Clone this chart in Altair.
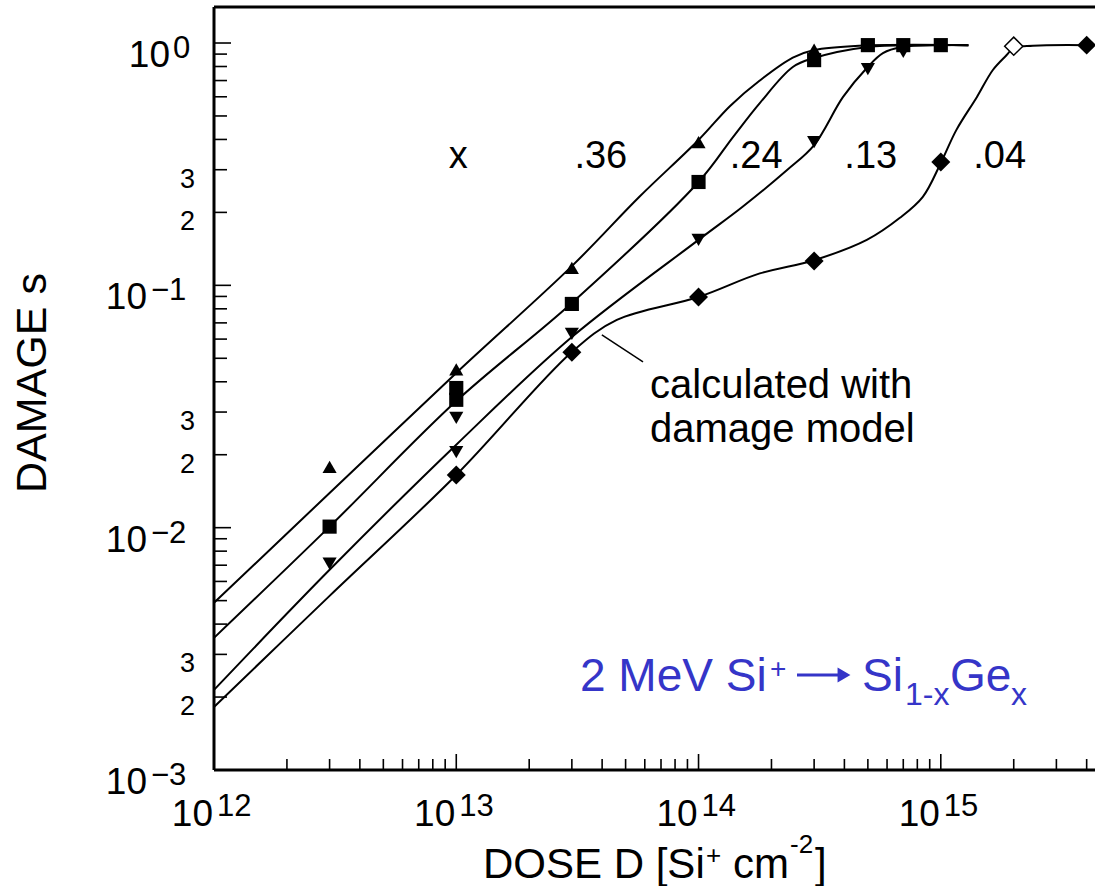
import altair as alt
import pandas as pd

# ---------------- data ----------------
# measured damage points, dose in Si+ cm^-2
x36_dose = [3e12, 1e13, 3e13, 1e14, 3e14]
x36_dmg = [0.0178, 0.045, 0.118, 0.39, 0.94]

x24_dose = [3e12, 1e13, 1e13, 3e13, 1e14, 3e14, 5e14, 7e14, 1e15]
x24_dmg = [0.0101, 0.0377, 0.0337, 0.0838, 0.267, 0.85, 0.98, 0.98, 0.98]

x13_dose = [3e12, 1e13, 1e13, 3e13, 1e14, 3e14, 5e14, 7e14]
x13_dmg = [0.0071, 0.0284, 0.0205, 0.063, 0.154, 0.39, 0.78, 0.92]

x04_dose = [1e13, 3e13, 1e14, 3e14, 1e15, 4e15]
x04_dmg = [0.0165, 0.053, 0.0895, 0.126, 0.323, 0.98]
x04_open_dose = [2e15]
x04_open_dmg = [0.97]

# curves calculated with the damage model
fit36_dose = [1e12, 3e12, 1e13, 3e13, 5.7e13, 1e14, 1.35e14, 1.79e14, 2.45e14, 3e14, 4.6e14, 1.3e15]
fit36_dmg = [0.0049, 0.0139, 0.0435, 0.120, 0.232, 0.398, 0.55, 0.70, 0.87, 0.935, 0.975, 0.98]

fit24_dose = [1e12, 3e12, 1e13, 3e13, 1e14, 1.39e14, 1.79e14, 2.45e14, 3e14, 5e14, 8.2e14, 1.3e15]
fit24_dmg = [0.00351, 0.0101, 0.0333, 0.0846, 0.267, 0.41, 0.565, 0.796, 0.867, 0.963, 0.98, 0.98]

fit13_dose = [1e12, 3e12, 1e13, 3e13, 1e14, 1.52e14, 2.32e14, 3e14, 3.95e14, 4.95e14, 5.77e14, 6.92e14, 1e15, 1.3e15]
fit13_dmg = [0.00214, 0.0067, 0.022, 0.0612, 0.154, 0.211, 0.299, 0.379, 0.599, 0.789, 0.909, 0.963, 0.98, 0.98]

fit04_dose = [1e12, 3e12, 1e13, 3e13, 4.6e13, 1e14, 1.79e14, 3e14, 4.95e14, 6.78e14, 8.43e14, 1e15,
              1.16e15, 1.41e15, 1.64e15, 1.87e15, 2e15, 2.4e15, 4e15]
fit04_dmg = [0.00182, 0.00523, 0.0165, 0.0531, 0.072, 0.0895, 0.112, 0.127, 0.154, 0.19, 0.232, 0.32,
             0.438, 0.599, 0.774, 0.892, 0.955, 0.975, 0.98]

# composition labels
comp_text = ["x", ".36", ".24", ".13", ".04"]
comp_dose = [1.02e13, 3.95e13, 1.73e14, 5.14e14, 1.75e15]
comp_dmg = [0.305, 0.305, 0.305, 0.305, 0.305]

# leader line to the "calculated with damage model" note
lead_dose = [3.99e13]
lead_dose2 = [5.9e13]
lead_dmg = [0.0624]
lead_dmg2 = [0.0483]

# axis ticks and labels
y_major = [1e-3, 1e-2, 1e-1, 1.0]
y_minor = [m * d for d in (1e-3, 1e-2, 1e-1) for m in range(2, 10)]
x_major = [1e12, 1e13, 1e14, 1e15]
x_minor = [m * d for d in (1e12, 1e13, 1e14) for m in range(2, 10)] + [2e15, 3e15, 4e15]
y_dec_pos_vals = [1.0]
y_dec_pos_exp = ["0"]
y_dec_neg_vals = [1e-1, 1e-2, 1e-3]
y_dec_neg_exp = ["\u22121", "\u22122", "\u22123"]
y_small_vals = [2e-3, 3e-3, 2e-2, 3e-2, 2e-1, 3e-1]
y_small_text = ["2", "3", "2", "3", "2", "3"]
x_dec_vals = [1e12, 1e13, 1e14, 1e15]
x_dec_exp = ["12", "13", "14", "15"]

# ---------------- layout ----------------
W, H = 881, 763
SANS = "Liberation Sans, Arial, Helvetica, sans-serif"
BLUE = "#3535c8"

xs = alt.Scale(type="log", domain=[1e12, 4.33e15], nice=False)
ys = alt.Scale(type="log", domain=[1e-3, 1.408], nice=False)


def X(f):
    return alt.X(f, type="quantitative", scale=xs, axis=None)


def Y(f):
    return alt.Y(f, type="quantitative", scale=ys, axis=None)


one = pd.DataFrame({"k": [0]})


def ptext(txt, x, y, size, color="black", align="left", baseline="alphabetic", angle=0):
    return alt.Chart(one).mark_text(
        text=txt, fontSize=size, font=SANS, color=color, align=align,
        baseline=baseline, angle=angle
    ).encode(x=alt.value(x), y=alt.value(y))


layers = []

# frame (left, top, bottom)
layers.append(alt.Chart(one).mark_rule(color="black", strokeWidth=3).encode(
    x=alt.value(0), y=alt.value(0), y2=alt.value(H)))
layers.append(alt.Chart(one).mark_rule(color="black", strokeWidth=3).encode(
    x=alt.value(0), x2=alt.value(W), y=alt.value(0)))
layers.append(alt.Chart(one).mark_rule(color="black", strokeWidth=3).encode(
    x=alt.value(0), x2=alt.value(W), y=alt.value(H)))


# inward ticks
def yticks(vals, length):
    return alt.Chart(pd.DataFrame({"v": vals})).mark_rule(color="black", strokeWidth=1.6).encode(
        y=Y("v"), x=alt.value(0), x2=alt.value(length))


def xticks(vals, length):
    return alt.Chart(pd.DataFrame({"v": vals})).mark_rule(color="black", strokeWidth=1.6).encode(
        x=X("v"), y=alt.value(H), y2=alt.value(H - length))


layers += [yticks(y_major, 17), yticks(y_minor, 13), xticks(x_major, 16), xticks(x_minor, 11)]

# y decade labels 10^n
layers.append(alt.Chart(pd.DataFrame({"v": y_dec_pos_vals})).mark_text(
    text="10", fontSize=37, font=SANS, align="right", dy=13).encode(y=Y("v"), x=alt.value(-44)))
layers.append(alt.Chart(pd.DataFrame({"v": y_dec_pos_vals, "e": y_dec_pos_exp})).mark_text(
    fontSize=31, font=SANS, align="left", dy=6).encode(y=Y("v"), x=alt.value(-41), text="e:N"))
layers.append(alt.Chart(pd.DataFrame({"v": y_dec_neg_vals})).mark_text(
    text="10", fontSize=37, font=SANS, align="right", dy=13).encode(y=Y("v"), x=alt.value(-67)))
layers.append(alt.Chart(pd.DataFrame({"v": y_dec_neg_vals, "e": y_dec_neg_exp})).mark_text(
    fontSize=31, font=SANS, align="left", dy=6).encode(y=Y("v"), x=alt.value(-63), text="e:N"))
# y intermediate labels 2, 3
layers.append(alt.Chart(pd.DataFrame({"v": y_small_vals, "t": y_small_text})).mark_text(
    fontSize=27, font=SANS, align="right", dy=10).encode(y=Y("v"), x=alt.value(-19), text="t:N"))
# x decade labels
layers.append(alt.Chart(pd.DataFrame({"v": x_dec_vals})).mark_text(
    text="10", fontSize=37, font=SANS, align="right", dx=-1).encode(x=X("v"), y=alt.value(H + 45)))
layers.append(alt.Chart(pd.DataFrame({"v": x_dec_vals, "e": x_dec_exp})).mark_text(
    fontSize=31, font=SANS, align="left", dx=3).encode(x=X("v"), y=alt.value(H + 37), text="e:N"))

# model curves
fits = []
for name, d, s in [(".36", fit36_dose, fit36_dmg), (".24", fit24_dose, fit24_dmg),
                   (".13", fit13_dose, fit13_dmg), (".04", fit04_dose, fit04_dmg)]:
    fits.append(pd.DataFrame({"d": d, "s": s, "c": name}))
fit_df = pd.concat(fits, ignore_index=True)
layers.append(alt.Chart(fit_df).mark_line(interpolate="catmull-rom", color="black", strokeWidth=2).encode(
    x=X("d"), y=Y("s"), detail="c:N"))


# measured points
def pts(dose, dmg, shape, size, fill="black", sw=0.0):
    df = pd.DataFrame({"d": dose, "s": dmg})
    return alt.Chart(df).mark_point(shape=shape, size=size, filled=True, fill=fill, stroke="black",
                                    strokeWidth=sw, opacity=1).encode(x=X("d"), y=Y("s"))


layers += [
    pts(x36_dose, x36_dmg, "triangle-up", 200),
    pts(x24_dose, x24_dmg, "square", 200),
    pts(x13_dose, x13_dmg, "triangle-down", 200),
    pts(x04_dose, x04_dmg, "diamond", 360),
    pts(x04_open_dose, x04_open_dmg, "diamond", 330, fill="white", sw=1.5),
]

# composition labels
layers.append(alt.Chart(pd.DataFrame({"d": comp_dose, "s": comp_dmg, "t": comp_text})).mark_text(
    fontSize=38, font=SANS, align="center", baseline="alphabetic").encode(x=X("d"), y=Y("s"), text="t:N"))

# leader line and note
layers.append(alt.Chart(pd.DataFrame({"d": lead_dose, "d2": lead_dose2, "s": lead_dmg, "s2": lead_dmg2}))
              .mark_rule(color="black", strokeWidth=1.5)
              .encode(x=X("d"), x2="d2", y=Y("s"), y2="s2"))
layers.append(ptext("calculated with", 436, 391, 40))
layers.append(ptext("damage model", 436, 435, 40))

# blue annotation: 2 MeV Si+ -> Si(1-x)Ge(x)
layers.append(ptext("2 MeV Si", 366, 684, 46, color=BLUE))
layers.append(ptext("+", 556, 671, 28, color=BLUE))
layers.append(alt.Chart(one).mark_rule(color=BLUE, strokeWidth=3).encode(
    x=alt.value(583), x2=alt.value(626), y=alt.value(668)))
layers.append(alt.Chart(one).mark_point(shape="triangle-right", size=220, filled=True, color=BLUE,
                                        opacity=1).encode(x=alt.value(630), y=alt.value(668)))
layers.append(ptext("Si", 648, 684, 46, color=BLUE))
layers.append(ptext("1-x", 691, 698, 32, color=BLUE))
layers.append(ptext("Ge", 736, 684, 46, color=BLUE))
layers.append(ptext("x", 797, 698, 32, color=BLUE))

# axis titles
layers.append(ptext("DAMAGE s", -181, 376, 43, align="center", baseline="middle", angle=270))
layers.append(ptext("DOSE D [Si", 269, 871, 42))
layers.append(ptext("+", 492, 857, 26))
layers.append(ptext("cm", 519, 871, 42))
layers.append(ptext("-2", 576, 846, 26))
layers.append(ptext("]", 601, 871, 42))

chart = alt.layer(*layers).properties(
    width=W, height=H,
    autosize=alt.AutoSizeParams(type="none"),
    padding={"left": 214, "top": 7, "right": 0, "bottom": 116},
    background="white",
).configure_view(stroke=None)

chart.save("out.html", embed_options={"renderer": "svg", "actions": False})
